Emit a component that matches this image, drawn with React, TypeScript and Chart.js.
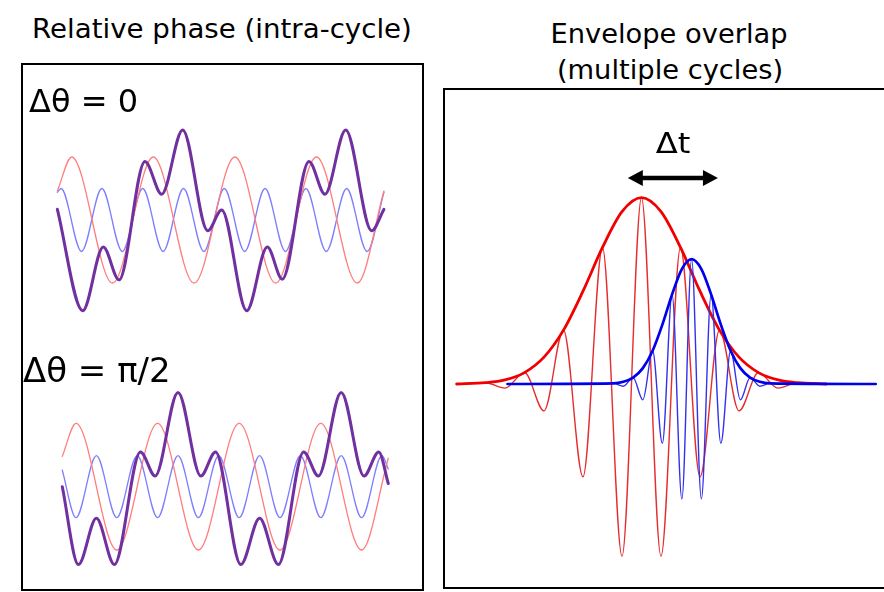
import React, { useEffect, useRef } from "react";
import { Chart, registerables } from "chart.js";

Chart.register(...registerables);

// ---------- Relative phase, Δθ = 0 ----------
// time in cycles of the slow rhythm, amplitude in units of the slow rhythm's amplitude
const T_SLOW_SYNC = [0.074, 0.25, 0.75, 1.25, 1.75, 2.25, 2.75, 3.25, 3.75, 4.077];
const V_SLOW_SYNC = [0.46, 1, -1, 1, -1, 1, -1, 1, -1, 0.46];
const T_FAST_SYNC = [0.074, 0.12, 0.37, 0.62, 0.87, 1.12, 1.37, 1.62, 1.87, 2.12, 2.37, 2.62, 2.87, 3.12, 3.37, 3.62, 3.87, 4.077];
const V_FAST_SYNC = [0.44, 0.5, -0.5, 0.5, -0.5, 0.5, -0.5, 0.5, -0.5, 0.5, -0.5, 0.5, -0.5, 0.5, -0.5, 0.5, -0.5, 0.44];
const T_SUM_SYNC = [0.074, 0.385, 0.637, 0.83, 1.148, 1.353, 1.61, 1.917, 2.088, 2.395, 2.647, 2.831, 3.158, 3.354, 3.608, 3.926, 4.077];
const V_SUM_SYNC = [0.17, -1.44, -0.43, -0.95, 0.93, 0.41, 1.43, -0.17, 0.16, -1.44, -0.43, -0.94, 0.93, 0.41, 1.43, -0.17, 0.17];

// ---------- Relative phase, Δθ = π/2 ----------
const T_SLOW_SHIFT = [0.082, 0.25, 0.75, 1.25, 1.75, 2.25, 2.75, 3.25, 3.75, 4.077];
const V_SLOW_SHIFT = [0.48, 1, -1, 1, -1, 1, -1, 1, -1, 0.45];
const T_FAST_SHIFT = [0.082, 0.25, 0.5, 0.75, 1.0, 1.25, 1.5, 1.75, 2.0, 2.25, 2.5, 2.75, 3.0, 3.25, 3.5, 3.75, 4.0, 4.077];
const V_FAST_SHIFT = [0.26, -0.49, 0.49, -0.49, 0.49, -0.49, 0.49, -0.49, 0.49, -0.49, 0.49, -0.49, 0.49, -0.49, 0.49, -0.49, 0.49, 0.28];
const T_SUM_SHIFT = [0.082, 0.28, 0.5, 0.72, 1.04, 1.22, 1.5, 1.78, 1.96, 2.27, 2.5, 2.73, 3.04, 3.22, 3.5, 3.78, 3.96, 4.077];
const V_SUM_SHIFT = [0.0, -1.23, -0.5, -1.23, 0.55, 0.17, 1.49, 0.17, 0.55, -1.23, -0.5, -1.23, 0.55, 0.17, 1.49, 0.17, 0.55, 0.05];

// ---------- Envelope overlap ----------
// time in cycles of the red carrier, amplitude relative to the red envelope peak
const T_RED = [-4.74, -4, -3.5, -3, -2.5, -2, -1.5, -1, -0.5, 0, 0.5, 1, 1.5, 2, 2.5, 3, 3.5, 4, 4.74];
const V_RED_ENVELOPE = [0, 0.007, 0.022, 0.061, 0.144, 0.289, 0.498, 0.733, 0.925, 1, 0.925, 0.733, 0.498, 0.289, 0.144, 0.061, 0.022, 0.007, 0];
const V_RED_CARRIER = [0, 0.007, -0.022, 0.061, -0.144, 0.289, -0.498, 0.733, -0.925, 1, -0.925, 0.733, -0.498, 0.289, -0.144, 0.061, -0.022, 0.007, 0];
const T_BLUE = [-3.435, -0.715, -0.465, -0.215, 0.035, 0.285, 0.535, 0.785, 1.035, 1.285, 1.535, 1.785, 2.035, 2.285, 2.535, 2.785, 3.035, 3.285, 6.005];
const V_BLUE_ENVELOPE = [0, 0.0034, 0.0117, 0.0342, 0.085, 0.1786, 0.3185, 0.481, 0.617, 0.67, 0.617, 0.481, 0.3185, 0.1786, 0.085, 0.0342, 0.0117, 0.0034, 0];
const V_BLUE_CARRIER = [0, 0.0034, -0.0117, 0.0342, -0.085, 0.1786, -0.3185, 0.481, -0.617, 0.67, -0.617, 0.481, -0.3185, 0.1786, -0.085, 0.0342, -0.0117, 0.0034, 0];
// Δt marker: start/end time and height
const DT_ARROW_T = [-0.35, 1.96];
const DT_ARROW_LEVEL = 1.106;

const FONT = "'DejaVu Sans', Verdana, sans-serif";

const SLOW_COLOR = "rgb(255,125,125)";
const FAST_COLOR = "rgb(125,125,255)";
const SUM_COLOR = "#7030A0";

type Series = { t: number[]; v: number[]; color: string; width: number; order: number };

type WaveProps = {
  left: number;
  top: number;
  width: number;
  height: number;
  xRange: [number, number];
  yRange: [number, number];
  series: Series[];
  plugins?: any[];
};

function WaveChart({ left, top, width, height, xRange, yRange, series, plugins }: WaveProps) {
  const ref = useRef<HTMLCanvasElement>(null);
  useEffect(() => {
    if (!ref.current) return;
    const chart = new Chart(ref.current, {
      type: "line",
      data: {
        datasets: series.map((s) => ({
          data: s.t.map((t, i) => ({ x: t, y: s.v[i] })),
          borderColor: s.color,
          borderWidth: s.width,
          order: s.order,
          pointRadius: 0,
          fill: false,
          cubicInterpolationMode: "monotone" as const,
          borderJoinStyle: "round" as const,
          borderCapStyle: "round" as const,
          clip: false as any,
        })),
      },
      options: {
        responsive: false,
        animation: false,
        devicePixelRatio: 1,
        events: [],
        layout: { padding: 0 },
        plugins: { legend: { display: false }, tooltip: { enabled: false }, title: { display: false } },
        scales: {
          x: { type: "linear", display: false, min: xRange[0], max: xRange[1] },
          y: { type: "linear", display: false, min: yRange[0], max: yRange[1] },
        },
      },
      plugins: plugins ?? [],
    });
    return () => chart.destroy();
  }, []);
  return (
    <canvas
      ref={ref}
      width={width}
      height={height}
      style={{ position: "absolute", left, top, width, height }}
    />
  );
}

// double-headed Δt arrow drawn on the envelope chart
const dtArrow = {
  id: "dtArrow",
  afterDatasetsDraw(chart: any) {
    const { ctx, scales } = chart;
    const x1 = scales.x.getPixelForValue(DT_ARROW_T[0]);
    const x2 = scales.x.getPixelForValue(DT_ARROW_T[1]);
    const y = scales.y.getPixelForValue(DT_ARROW_LEVEL);
    const head = 15;
    const half = 8;
    ctx.save();
    ctx.fillStyle = "#000";
    ctx.strokeStyle = "#000";
    ctx.lineWidth = 4.5;
    ctx.beginPath();
    ctx.moveTo(x1 + head - 1, y);
    ctx.lineTo(x2 - head + 1, y);
    ctx.stroke();
    ctx.beginPath();
    ctx.moveTo(x1, y);
    ctx.lineTo(x1 + head, y - half);
    ctx.lineTo(x1 + head, y + half);
    ctx.closePath();
    ctx.fill();
    ctx.beginPath();
    ctx.moveTo(x2, y);
    ctx.lineTo(x2 - head, y - half);
    ctx.lineTo(x2 - head, y + half);
    ctx.closePath();
    ctx.fill();
    ctx.restore();
  },
};

type LabelProps = { text: string; x: number; baseline: number; size: number; stretch: number; center?: boolean };

function Label({ text, x, baseline, size, stretch, center }: LabelProps) {
  const top = baseline - 0.846 * size;
  const common: React.CSSProperties = {
    position: "absolute",
    top,
    whiteSpace: "pre",
    fontFamily: FONT,
    fontSize: size,
    lineHeight: `${size}px`,
    color: "#000",
    transform: `scaleX(${stretch})`,
  };
  if (center) {
    const w = 600;
    return (
      <div style={{ ...common, left: x - w / 2, width: w, textAlign: "center", transformOrigin: "50% 50%" }}>
        {text}
      </div>
    );
  }
  return <div style={{ ...common, left: x, transformOrigin: "0 50%" }}>{text}</div>;
}

export default function App() {
  return (
    <div
      style={{
        position: "absolute",
        left: 0,
        top: 0,
        width: 884,
        height: 592,
        overflow: "hidden",
        background: "#fff",
      }}
    >
      <Label text="Relative phase (intra-cycle)" x={222} baseline={37.5} size={26} stretch={1.063} center />
      <Label text="Envelope overlap" x={669} baseline={43} size={26} stretch={1.05} center />
      <Label text="(multiple cycles)" x={669.5} baseline={78.5} size={26} stretch={1.05} center />

      <div
        style={{
          position: "absolute",
          left: 21,
          top: 63,
          width: 403,
          height: 528,
          border: "2px solid #000",
          boxSizing: "border-box",
        }}
      />
      <div
        style={{
          position: "absolute",
          left: 443,
          top: 88,
          width: 460,
          height: 501,
          border: "2px solid #000",
          boxSizing: "border-box",
        }}
      />

      <WaveChart
        left={23}
        top={65}
        width={398}
        height={265}
        xRange={[-0.347, 4.531]}
        yRange={[-1.746, 2.46]}
        series={[
          { t: T_SUM_SYNC, v: V_SUM_SYNC, color: SUM_COLOR, width: 3, order: 0 },
          { t: T_SLOW_SYNC, v: V_SLOW_SYNC, color: SLOW_COLOR, width: 1.3, order: 1 },
          { t: T_FAST_SYNC, v: V_FAST_SYNC, color: FAST_COLOR, width: 1.3, order: 2 },
        ]}
      />
      <WaveChart
        left={23}
        top={330}
        width={398}
        height={259}
        xRange={[-0.3995, 4.478]}
        yRange={[-1.616, 2.4755]}
        series={[
          { t: T_SUM_SHIFT, v: V_SUM_SHIFT, color: SUM_COLOR, width: 3, order: 0 },
          { t: T_SLOW_SHIFT, v: V_SLOW_SHIFT, color: SLOW_COLOR, width: 1.3, order: 1 },
          { t: T_FAST_SHIFT, v: V_FAST_SHIFT, color: FAST_COLOR, width: 1.3, order: 2 },
        ]}
      />
      <WaveChart
        left={445}
        top={90}
        width={439}
        height={497}
        xRange={[-5.038, 6.218]}
        yRange={[-1.0896, 1.578]}
        series={[
          { t: T_BLUE, v: V_BLUE_ENVELOPE, color: "rgb(0,0,235)", width: 2.7, order: 0 },
          { t: T_BLUE, v: V_BLUE_CARRIER, color: "rgb(50,50,235)", width: 1.4, order: 1 },
          { t: T_RED, v: V_RED_ENVELOPE, color: "rgb(240,0,0)", width: 2.8, order: 2 },
          { t: T_RED, v: V_RED_CARRIER, color: "rgb(230,45,45)", width: 1.4, order: 3 },
        ]}
        plugins={[dtArrow]}
      />

      <Label text="Δθ = 0" x={29} baseline={112} size={32} stretch={1.0} />
      <Label text="Δθ = π/2" x={23} baseline={382} size={33} stretch={1.03} />
      <Label text="Δt" x={673.3} baseline={154} size={29} stretch={1.11} center />
    </div>
  );
}
